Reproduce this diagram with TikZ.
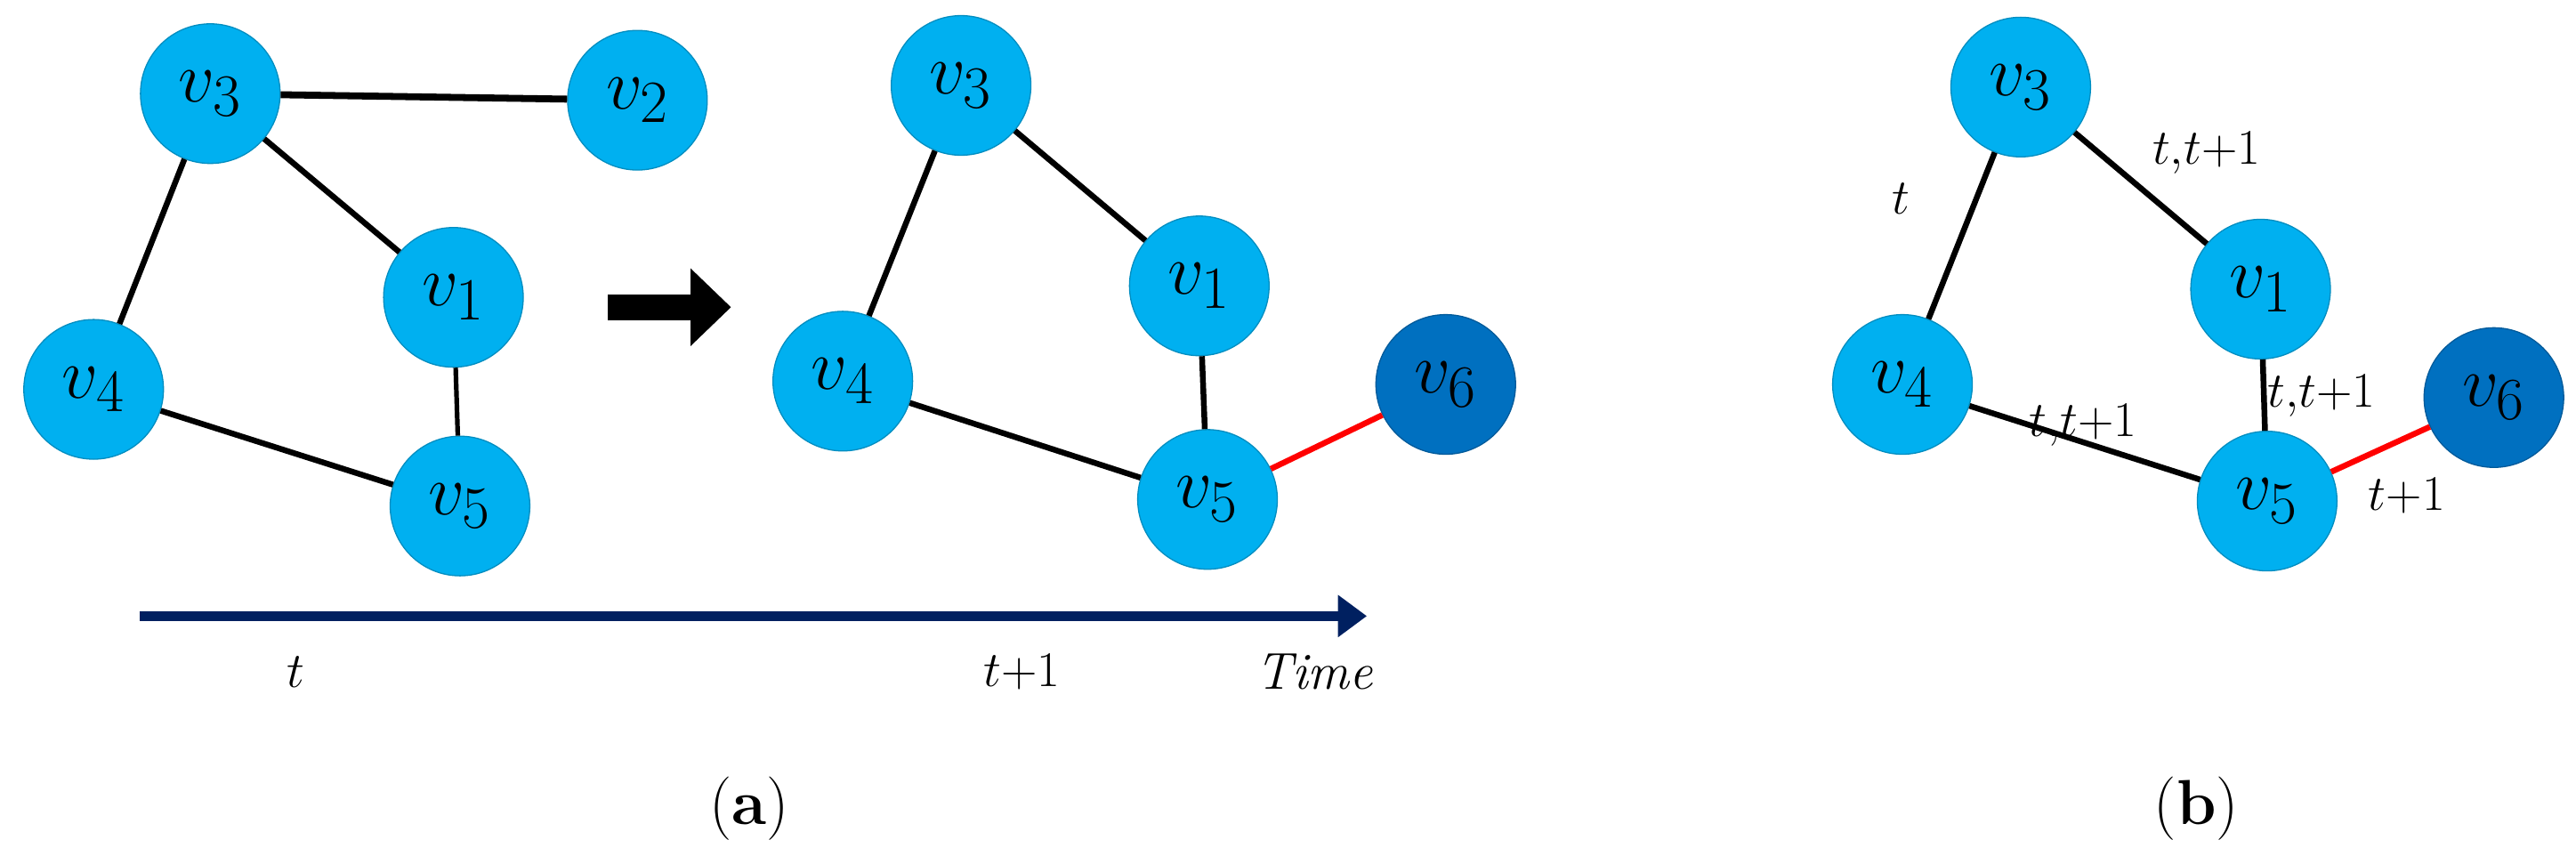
\documentclass[tikz,border=0pt]{standalone}
\usetikzlibrary{arrows.meta}
\begin{document}
\begin{tikzpicture}[x=0.02cm,y=-0.02cm,
 nd/.style={circle,fill=lb,draw=lb!80!black,line width=0.4pt,minimum size=1.7cm,inner sep=0pt,font=\fontsize{30}{32}\selectfont},
 dk/.style={nd,fill=db,draw=db!80!black},
 ed/.style={line width=2pt,black},
 re/.style={line width=2pt,red},
 lb/.style={font=\fontsize{18}{22}\selectfont}]
\definecolor{lb}{HTML}{00B0F0}\definecolor{db}{HTML}{0070C0}\definecolor{nv}{HTML}{002060}
\useasboundingbox (0,0) rectangle (1568,520.6);
% left graph
\node[nd] (a3) at (128,57) {$v_3$};
\node[nd] (a2) at (388,61) {$v_2$};
\node[nd] (a1) at (276,181) {$v_1$};
\node[nd] (a4) at (57,237) {$v_4$};
\node[nd] (a5) at (280,308) {$v_5$};
\draw[ed,line width=2.4pt] (a3)--(a2); \draw[ed] (a3)--(a1); \draw[ed] (a3)--(a4);
\draw[ed,line width=1.6pt] (a1)--(a5); \draw[ed] (a4)--(a5);
% arrow
\coordinate (p1) at (370,187); \coordinate (p2) at (445,187);
\draw[line width=9pt,-{Triangle[length=14pt,width=26pt]}] (p1)--(p2);
% middle graph
\node[nd] (b3) at (585,52) {$v_3$};
\node[nd] (b1) at (730,174) {$v_1$};
\node[nd] (b4) at (513,232) {$v_4$};
\node[nd] (b5) at (735,304) {$v_5$};
\node[dk] (b6) at (880,234) {$v_6$};
\draw[ed] (b3)--(b1); \draw[ed] (b3)--(b4); \draw[ed] (b1)--(b5); \draw[ed] (b4)--(b5);
\draw[re] (b5)--(b6);
% time axis
\coordinate (t1) at (85,375); \coordinate (t2) at (832,375);
\draw[nv,line width=3.5pt,-{Triangle[length=10pt,width=14pt]}] (t1)--(t2);
\node[lb] (tt) at (180,409) {$t$};
\node[lb] (tt1) at (622,409) {$t{+}1$};
\node[lb] (tm) at (800,409) {\textit{Time}};
\node[font=\fontsize{22}{26}\selectfont] (ca) at (456,492) {(\textbf{a})};
% panel b
\node[nd] (c3) at (1230,53) {$v_3$};
\node[nd] (c1) at (1376,176) {$v_1$};
\node[nd] (c4) at (1158,234) {$v_4$};
\node[nd] (c5) at (1380,305) {$v_5$};
\node[dk] (c6) at (1518,242) {$v_6$};
\draw[ed] (c3)--(c1); \draw[ed] (c3)--(c4); \draw[ed] (c1)--(c5); \draw[ed] (c4)--(c5);
\draw[re] (c5)--(c6);
\node[lb] (l1) at (1157,121) {$t$};
\node[lb] (l2) at (1343,93) {$t,\!t{+}1$};
\node[lb] (l3) at (1268,259) {$t,\!t{+}1$};
\node[lb] (l4) at (1413,241) {$t,\!t{+}1$};
\node[lb] (l5) at (1465,302) {$t{+}1$};
\node[font=\fontsize{22}{26}\selectfont] (cb) at (1337,492) {(\textbf{b})};
\end{tikzpicture}
\end{document}
